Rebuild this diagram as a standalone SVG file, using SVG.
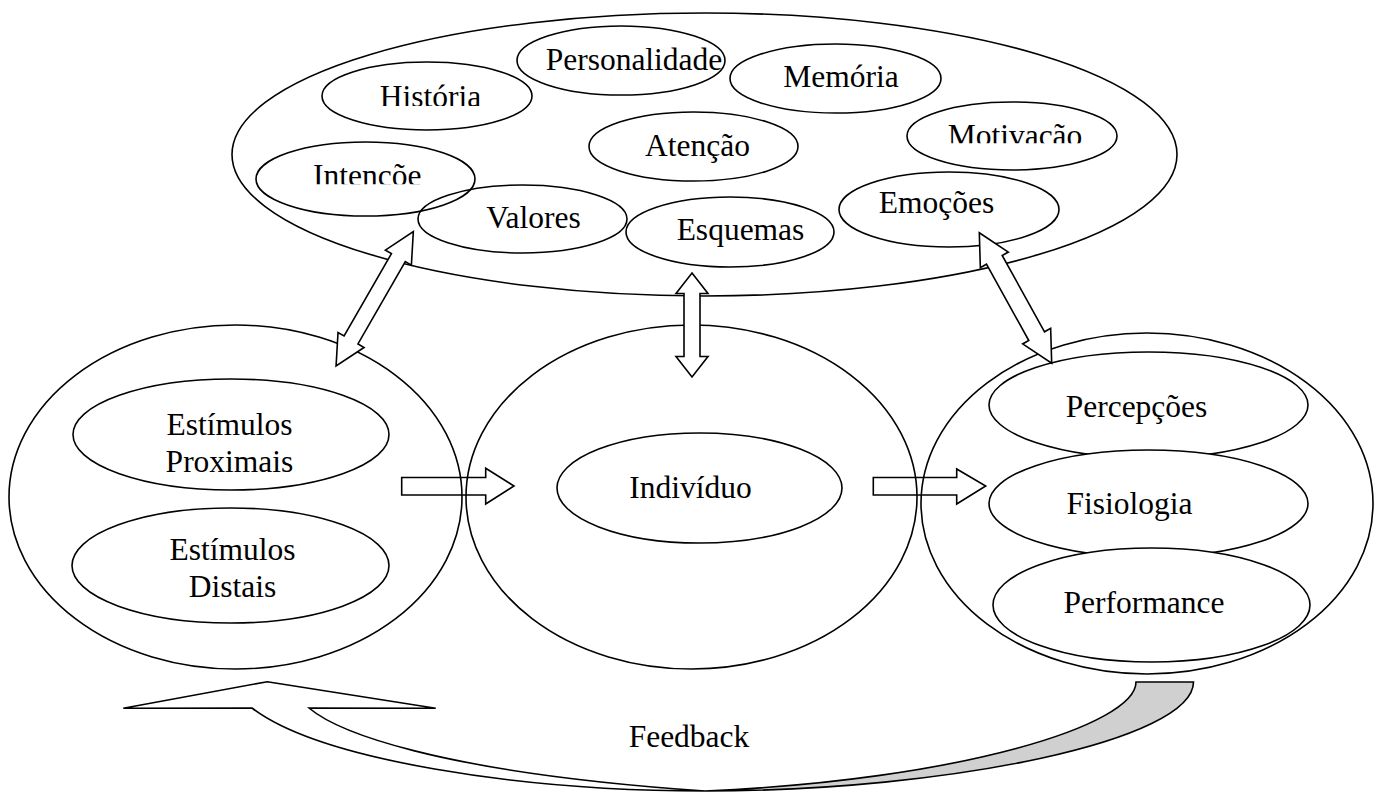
<svg xmlns="http://www.w3.org/2000/svg" width="1379" height="793" viewBox="0 0 1379 793">
<style>
.o{fill:none;stroke:#000;stroke-width:1.6}
.w{fill:#fff;stroke:#000;stroke-width:1.6}
.g{fill:#d0d0d0;stroke:#000;stroke-width:1.6}
text{font-family:"Liberation Serif","Times New Roman",serif;font-size:31.5px;fill:#000}
.c{text-anchor:middle}
</style>
<defs>
<clipPath id="cpHist"><rect x="300" y="60" width="250" height="46"/></clipPath>
<clipPath id="cpInt"><rect x="300" y="140" width="121" height="44.3"/></clipPath>
<clipPath id="cpMot"><rect x="900" y="100" width="220" height="43.3"/></clipPath>
</defs>
<rect width="1379" height="793" fill="#fff"/>

<g id="contexto">
<ellipse class="o" cx="704.5" cy="154.5" rx="472.5" ry="141.5"/>
</g>
<g id="historia">
<ellipse class="o" cx="427" cy="96" rx="105" ry="34"/>
<text class="c" x="430.5" y="107" clip-path="url(#cpHist)">História</text>
</g>
<g id="personalidade">
<ellipse class="o" cx="621" cy="60.5" rx="104" ry="34.5"/>
<text class="c" x="634" y="70">Personalidade</text>
</g>
<g id="memoria">
<ellipse class="o" cx="835.5" cy="78.5" rx="105.5" ry="34.5"/>
<text class="c" x="841" y="87">Memória</text>
</g>
<g id="intencoes">
<ellipse class="o" cx="365.5" cy="179" rx="109.5" ry="37"/>
<text x="313" y="186" clip-path="url(#cpInt)">Intencõe</text>
</g>
<g id="atencao">
<ellipse class="o" cx="693.5" cy="146.5" rx="104.5" ry="34.5"/>
<text class="c" x="697.5" y="156">Atenção</text>
</g>
<g id="motivacao">
<ellipse class="o" cx="1012" cy="136" rx="105" ry="34"/>
<text class="c" x="1015" y="146" clip-path="url(#cpMot)">Motivacão</text>
</g>
<g id="valores">
<ellipse class="o" cx="522.5" cy="219" rx="104.5" ry="34"/>
<text class="c" x="533.5" y="228">Valores</text>
</g>
<g id="esquemas">
<ellipse class="o" cx="730" cy="232" rx="104" ry="35"/>
<text class="c" x="740.5" y="240">Esquemas</text>
</g>
<g id="emocoes">
<ellipse class="o" cx="949" cy="209.5" rx="110" ry="37.5"/>
<text class="c" x="936.5" y="213">Emoções</text>
</g>

<g id="estimulos">
<ellipse class="o" cx="235.5" cy="497" rx="226.5" ry="172"/>
</g>
<g id="estimulos-proximais">
<ellipse class="o" cx="231" cy="434.5" rx="158" ry="55.5"/>
<text class="c" x="229.5" y="435">Estímulos</text>
<text class="c" x="229.5" y="472">Proximais</text>
</g>
<g id="estimulos-distais">
<ellipse class="o" cx="230.5" cy="565.5" rx="158.5" ry="57.5"/>
<text class="c" x="232.5" y="560">Estímulos</text>
<text class="c" x="232.5" y="597">Distais</text>
</g>

<g id="individuo-outer">
<ellipse class="o" cx="691.5" cy="497" rx="225.5" ry="172"/>
</g>
<g id="individuo">
<ellipse class="o" cx="699.5" cy="488" rx="142.5" ry="55"/>
<text class="c" x="690.5" y="498">Indivíduo</text>
</g>

<g id="respostas">
<ellipse class="o" cx="1147" cy="503.5" rx="226" ry="170.5"/>
</g>
<g id="percepcoes">
<ellipse class="w" cx="1148.5" cy="405" rx="159.5" ry="53"/>
<text class="c" x="1136.5" y="417">Percepções</text>
</g>
<g id="fisiologia">
<ellipse class="w" cx="1148.5" cy="503.5" rx="159.5" ry="53.5"/>
<text class="c" x="1129.5" y="514">Fisiologia</text>
</g>
<g id="performance">
<ellipse class="w" cx="1151.5" cy="605" rx="158.5" ry="57"/>
<text class="c" x="1144" y="613">Performance</text>
</g>

<g id="connectors">
<polygon class="w" transform="translate(374.7,298.8) rotate(-60.1)" points="-77.5,0 -47.5,-15 -47.5,-8 47.5,-8 47.5,-15 77.5,0 47.5,15 47.5,8 -47.5,8 -47.5,15"/>
<polygon class="w" transform="translate(692,325) rotate(90)" points="-52,0 -31.5,-16 -31.5,-8 31.5,-8 31.5,-16 52,0 31.5,16 31.5,8 -31.5,8 -31.5,16"/>
<polygon class="w" transform="translate(1015.5,298) rotate(61)" points="-74.65,0 -43.65,-16 -43.65,-9 43.65,-9 43.65,-16 74.65,0 43.65,16 43.65,9 -43.65,9 -43.65,16"/>
<path class="o" d="M401.7,477.5 L485.7,477.5 L485.7,468.3 L514,486 L485.7,504 L485.7,495 L401.7,495 Z"/>
<path class="o" d="M873.3,477.5 L956.7,477.5 L956.7,469 L985.7,486 L956.7,504 L956.7,495 L873.3,495 Z"/>
<path class="g" d="M1136,682 L1193.5,682 C1193.5,740 950,791 705,791 C960,780 1136,725 1136,682 Z"/>
<path class="w" d="M252,708 L123.3,708.3 L267.3,681.7 L435.7,708.3 L309,708 C335,730 430,772 705,791 C520,791 320,760 252,708 Z"/>
<text class="c" x="689" y="747">Feedback</text>
</g>
</svg>
